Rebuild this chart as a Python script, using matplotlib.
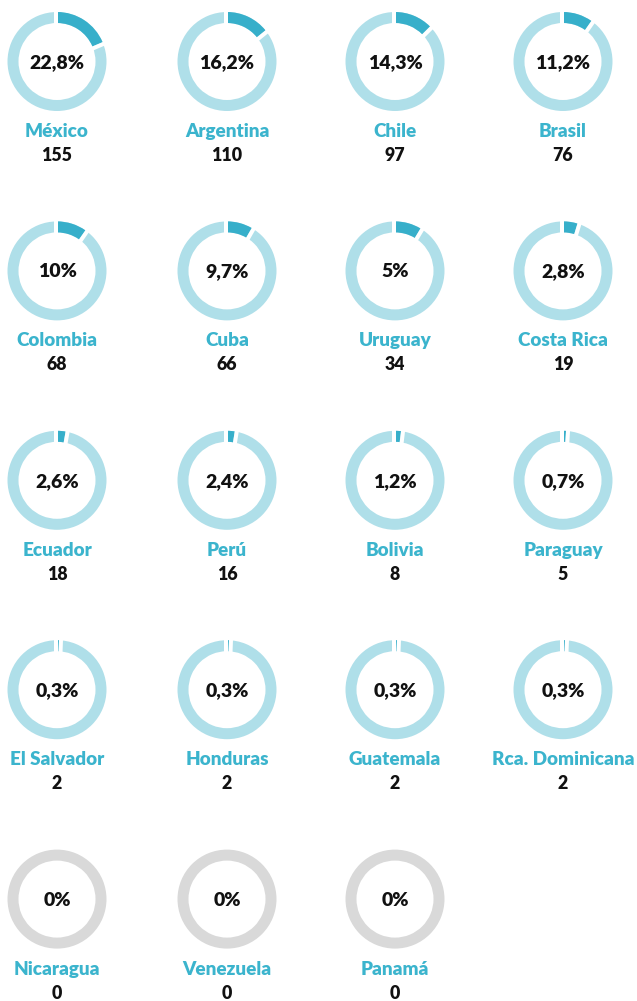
import numpy as np
import matplotlib.pyplot as plt
from matplotlib.patches import Wedge

countries = ['México', 'Argentina', 'Chile', 'Brasil',
             'Colombia', 'Cuba', 'Uruguay', 'Costa Rica',
             'Ecuador', 'Perú', 'Bolivia', 'Paraguay',
             'El Salvador', 'Honduras', 'Guatemala', 'Rca. Dominicana',
             'Nicaragua', 'Venezuela', 'Panamá']
percents = [22.8, 16.2, 14.3, 11.2,
            10, 9.7, 5, 2.8,
            2.6, 2.4, 1.2, 0.7,
            0.3, 0.3, 0.3, 0.3,
            0, 0, 0]
counts = [155, 110, 97, 76,
          68, 66, 34, 19,
          18, 16, 8, 5,
          2, 2, 2, 2,
          0, 0, 0]
# arc lengths as drawn in the picture (degrees, clockwise from the top)
arc_deg = [67, 51, 45, 35,
           35, 30, 31, 17,
           10, 9, 7, 3.5,
           2.3, 2.3, 2.3, 2.3,
           0, 0, 0]

DARK = '#37AFCA'
LIGHT = '#AFDFE9'
GREY = '#D9D9D9'
NAME = '#3BB4CD'
TXT = '#111111'

W, H = 637, 1001
col_x = [57, 227, 395, 563]
R = 49.5
RW = 11
GAP = 4.0  # px of white between segments

plt.rcParams['font.family'] = ['Lato', 'DejaVu Sans']

fig = plt.figure(figsize=(W / 100, H / 100), dpi=100)
ax = fig.add_axes([0, 0, 1, 1])
ax.set_xlim(0, W)
ax.set_ylim(0, H)
ax.set_aspect('equal')
ax.axis('off')


def fmt(p):
    if p == int(p):
        return f'{int(p)}%'
    return f'{p:.1f}%'.replace('.', ',')


def arc(cx, cy, a0, a1, color):
    ax.add_patch(Wedge((cx, cy), R, 90 - a1, 90 - a0, width=RW,
                       facecolor=color, edgecolor='none'))


def gap(cx, cy, a, off):
    t = np.radians(a)
    u = np.array([np.sin(t), np.cos(t)])
    n = np.array([np.cos(t), -np.sin(t)])
    p0 = np.array([cx, cy]) + n * off + u * (R - RW - 2)
    p1 = np.array([cx, cy]) + n * off + u * (R + 2)
    ax.plot([p0[0], p1[0]], [p0[1], p1[1]], color='white',
            lw=GAP * 0.72, solid_capstyle='butt')


for i, (name, p, n, a) in enumerate(zip(countries, percents, counts, arc_deg)):
    r, c = divmod(i, 4)
    cx = col_x[c]
    cy = H - (61.5 + r * 209.4)
    if a == 0:
        arc(cx, cy, 0, 360, GREY)
    else:
        arc(cx, cy, 0, 360, LIGHT)
        arc(cx, cy, 0, a, DARK)
        gap(cx, cy, 0, -GAP / 2 + 0.5)
        gap(cx, cy, a, GAP / 2)
    ax.text(cx, cy - 1, fmt(p), ha='center', va='center', fontsize=14,
            fontweight=800, color=TXT)
    ax.text(cx, cy - 70, name, ha='center', va='center', fontsize=13.6,
            fontweight=800, color=NAME)
    ax.text(cx, cy - 94, str(n), ha='center', va='center', fontsize=12.8,
            fontweight=800, color=TXT)

fig.savefig('out.png', dpi=100, facecolor='white')
